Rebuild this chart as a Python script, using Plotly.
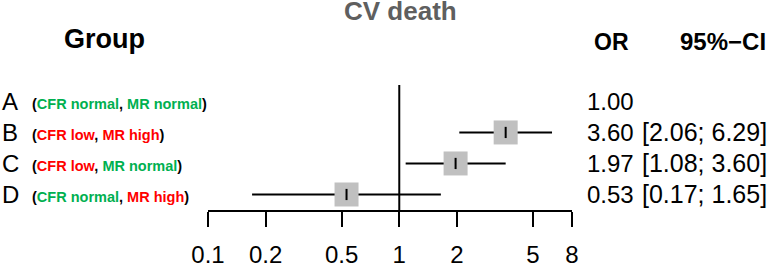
import math
import plotly.graph_objects as go

# ---- data ----
groups = ["A", "B", "C", "D"]
cfr_status = ["normal", "low", "low", "normal"]
mr_status = ["normal", "high", "normal", "high"]
odds_ratio = [1.00, 3.60, 1.97, 0.53]
ci_lower = [None, 2.06, 1.08, 0.17]
ci_upper = [None, 6.29, 3.60, 1.65]
tick_values = [0.1, 0.2, 0.5, 1, 2, 5, 8]
tick_labels = ["0.1", "0.2", "0.5", "1", "2", "5", "8"]
title_text = "CV death"
col_headers = ["Group", "OR", "95%\u2212CI"]

# ---- layout geometry (pixels) ----
W, H = 775, 266
L, R, T, B = 207.7, 571.7, 85, 210
PW, PH = R - L, B - T
FONT = "Liberation Sans, Arial, sans-serif"
GREEN = "#00b050"
RED = "#ff0000"
GRAY_BOX = "#c0c0c0"


def px(x):
    return (x - L) / PW


def py(y):
    return (B - y) / PH


rows = [len(groups) - i for i in range(len(groups))]  # A=4 ... D=1

fig = go.Figure()

# CI lines
xs, ys = [], []
for lo, hi, r in zip(ci_lower, ci_upper, rows):
    if lo is None:
        continue
    xs += [lo, hi, None]
    ys += [r, r, None]
fig.add_trace(go.Scatter(x=xs, y=ys, mode="lines",
                         line=dict(color="black", width=2), hoverinfo="skip"))

# boxes
bx = [o for o, lo in zip(odds_ratio, ci_lower) if lo is not None]
by = [r for r, lo in zip(rows, ci_lower) if lo is not None]
fig.add_trace(go.Scatter(x=bx, y=by, mode="markers",
                         marker=dict(symbol="square", size=24, color=GRAY_BOX,
                                     line=dict(width=0))))
# point estimate ticks
fig.add_trace(go.Scatter(x=bx, y=by, mode="markers",
                         marker=dict(symbol="line-ns", size=8,
                                     line=dict(color="black", width=2))))

# reference line at 1
fig.add_shape(type="line", xref="x", yref="paper", x0=1, x1=1, y0=0, y1=1,
              line=dict(color="black", width=2))

ann = []
ann.append(dict(text="<b>" + title_text + "</b>", x=px(400), y=py(11.5),
                xref="paper", yref="paper", xanchor="center", yanchor="middle",
                showarrow=False, font=dict(family=FONT, size=26, color="#5f5f5f")))
ann.append(dict(text="<b>" + col_headers[0] + "</b>", x=px(104), y=py(39),
                xref="paper", yref="paper", xanchor="center", yanchor="middle",
                showarrow=False, font=dict(family=FONT, size=27, color="black")))
ann.append(dict(text="<b>" + col_headers[1] + "</b>", x=px(611), y=py(42),
                xref="paper", yref="paper", xanchor="center", yanchor="middle",
                showarrow=False, font=dict(family=FONT, size=23, color="black")))
ann.append(dict(text="<b>" + col_headers[2] + "</b>", x=px(723), y=py(42),
                xref="paper", yref="paper", xanchor="center", yanchor="middle",
                showarrow=False, font=dict(family=FONT, size=24, color="black")))


def col(status):
    return GREEN if status == "normal" else RED


for g, c, m, o, lo, hi, r in zip(groups, cfr_status, mr_status, odds_ratio,
                                  ci_lower, ci_upper, rows):
    ann.append(dict(text=g, x=px(0), y=r, xref="paper", yref="y",
                    xanchor="left", yanchor="middle", showarrow=False,
                    font=dict(family=FONT, size=24, color="black")))
    lab = ("<b>(<span style='color:%s'>CFR %s</span>, "
           "<span style='color:%s'>MR %s</span>)</b>") % (col(c), c, col(m), m)
    ann.append(dict(text=lab, x=px(30), y=r, xref="paper", yref="y",
                    xanchor="left", yanchor="middle", showarrow=False, yshift=-3,
                    font=dict(family=FONT, size=14.5, color="black")))
    ann.append(dict(text="%.2f" % o, x=px(585), y=r, xref="paper", yref="y",
                    xanchor="left", yanchor="middle", showarrow=False,
                    font=dict(family=FONT, size=24, color="black")))
    if lo is not None:
        ann.append(dict(text="[%.2f; %.2f]" % (lo, hi), x=px(640), y=r,
                        xref="paper", yref="y", xanchor="left", yanchor="middle",
                        showarrow=False,
                        font=dict(family=FONT, size=25, color="black")))

fig.update_layout(
    width=W, height=H,
    margin=dict(l=L, r=W - R, t=T, b=H - B, pad=0, autoexpand=False),
    paper_bgcolor="white", plot_bgcolor="white",
    showlegend=False,
    annotations=ann,
    xaxis=dict(type="log", range=[math.log10(tick_values[0]), math.log10(tick_values[-1])],
               showline=True, linecolor="black", linewidth=2,
               ticks="outside", ticklen=15, tickwidth=2, tickcolor="black",
               tickvals=tick_values, ticktext=tick_labels,
               tickfont=dict(family=FONT, size=24, color="black"),
               ticklabelstandoff=7, automargin=False,
               showgrid=False, zeroline=False, fixedrange=True),
    yaxis=dict(range=[0.5, 4.53], visible=False, showgrid=False,
               zeroline=False, fixedrange=True, automargin=False),
)

fig.write_html("out.html", config={"displayModeBar": False},
               post_script="document.body.style.margin='0';")
